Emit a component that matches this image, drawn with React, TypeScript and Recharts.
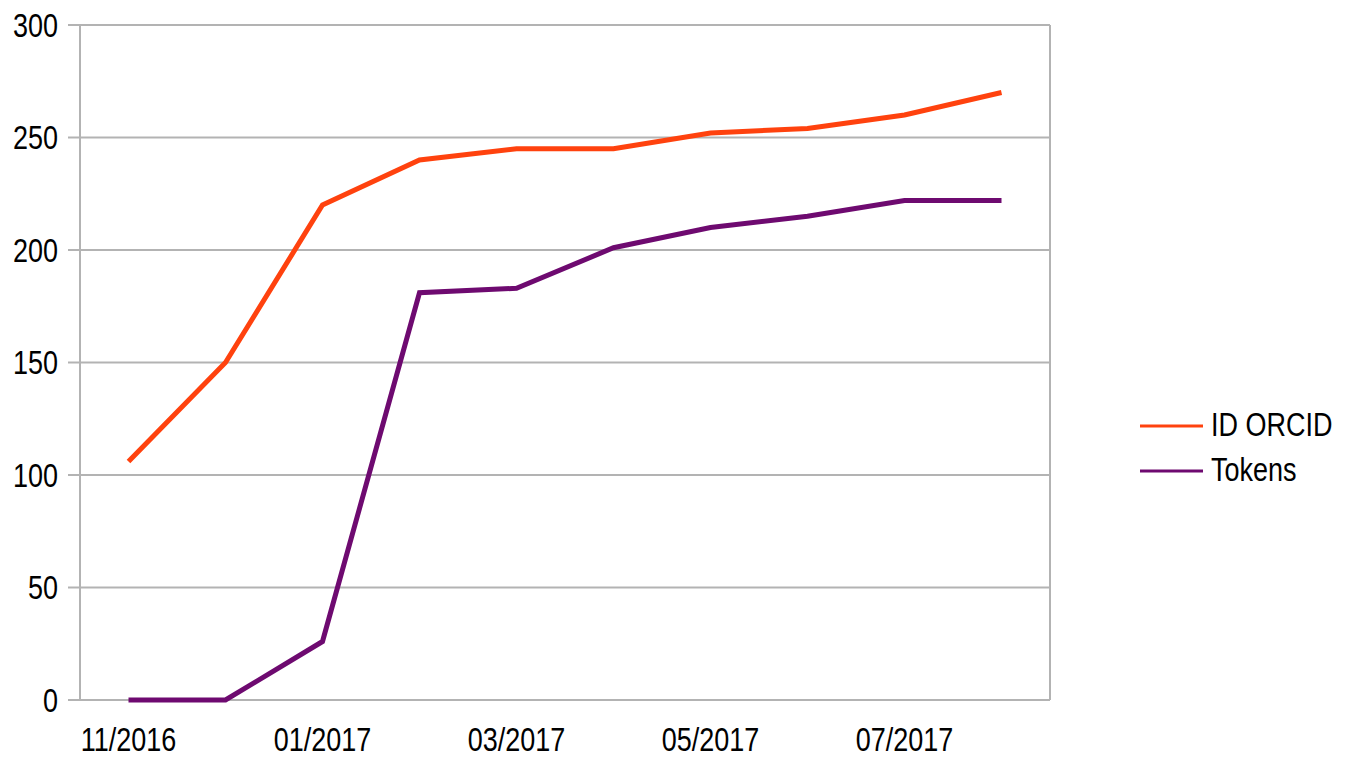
import React from 'react';
import { LineChart, Line, XAxis, YAxis, CartesianGrid, Legend, ReferenceLine } from 'recharts';

const months = ['11/2016', '12/2016', '01/2017', '02/2017', '03/2017', '04/2017', '05/2017', '06/2017', '07/2017', '08/2017'];
const orcidIds = [106, 150, 220, 240, 245, 245, 252, 254, 260, 270];
const tokens = [0, 0, 26, 181, 183, 201, 210, 215, 222, 222];
const yTicks = [0, 50, 100, 150, 200, 250, 300];

const FONT = "'Liberation Sans', Arial, sans-serif";
const FONT_SIZE = 27;
const STRETCH = 1.2; // the source text is a bit taller than it is wide
const GRID = '#b3b3b3';
const ORANGE = '#ff420e';
const PURPLE = '#6e0a70';

// one category per month, points sit in the middle of each slot
const data = months.map((m, i) => ({ x: i + 0.5, month: m, orcid: orcidIds[i], tokens: tokens[i] }));
const slotBounds = months.map((_, i) => i).concat(months.length);
const labelTicks = months.map((_, i) => i + 0.5).filter((_, i) => i % 2 === 0);

const MonthTick = (props: any) => {
  const { x, y, payload } = props;
  return (
    <g transform={`translate(${x},${y}) scale(1,${STRETCH})`}>
      <text x={0} y={0} dy="0.71em" textAnchor="middle" fill="#000" fontSize={FONT_SIZE} fontFamily={FONT}>
        {months[Math.floor(payload.value)]}
      </text>
    </g>
  );
};

const ValueTick = (props: any) => {
  const { x, y, payload } = props;
  return (
    <g transform={`translate(${x},${y}) scale(1,${STRETCH})`}>
      <text x={0} y={0} dy="0.355em" textAnchor="end" fill="#000" fontSize={FONT_SIZE} fontFamily={FONT}>
        {payload.value}
      </text>
    </g>
  );
};

const renderLegend = (props: any) => {
  const { payload } = props;
  return (
    <div style={{ paddingLeft: 90 }}>
      {payload.map((entry: any) => (
        <div key={entry.value} style={{ display: 'flex', alignItems: 'center', height: 45, whiteSpace: 'nowrap' }}>
          <svg width={63} height={4} style={{ display: 'block' }}>
            <line x1={0} y1={2} x2={63} y2={2} stroke={entry.color} strokeWidth={3} />
          </svg>
          <span
            style={{
              marginLeft: 8,
              fontSize: FONT_SIZE,
              fontFamily: FONT,
              color: '#000',
              display: 'inline-block',
              transform: `scaleY(${STRETCH})`,
            }}
          >
            {entry.value}
          </span>
        </div>
      ))}
    </div>
  );
};

export default function App() {
  return (
    <div style={{ position: 'absolute', left: 0, top: 0, background: '#fff' }}>
      <LineChart width={1352} height={758} data={data} margin={{ top: 25, right: 12, bottom: 0, left: 0 }}>
        <CartesianGrid xAxisId="grid" vertical={false} stroke={GRID} strokeWidth={2} />
        <XAxis
          xAxisId="grid"
          type="number"
          dataKey="x"
          domain={[0, months.length]}
          ticks={slotBounds}
          tick={false}
          tickSize={12}
          height={0}
          axisLine={{ stroke: GRID, strokeWidth: 2 }}
          tickLine={{ stroke: GRID, strokeWidth: 2 }}
        />
        <XAxis
          xAxisId="labels"
          type="number"
          dataKey="x"
          domain={[0, months.length]}
          ticks={labelTicks}
          interval={0}
          axisLine={false}
          tickLine={false}
          tickSize={0}
          tickMargin={28}
          height={58}
          tick={<MonthTick />}
        />
        <YAxis
          domain={[0, 300]}
          ticks={yTicks}
          interval={0}
          width={80}
          tickSize={12}
          tickMargin={10}
          axisLine={{ stroke: GRID, strokeWidth: 2 }}
          tickLine={{ stroke: GRID, strokeWidth: 2 }}
          tick={<ValueTick />}
        />
        <ReferenceLine xAxisId="grid" x={months.length} stroke={GRID} strokeWidth={2} />
        <Legend
          layout="vertical"
          align="right"
          verticalAlign="middle"
          width={290}
          wrapperStyle={{ top: 403 }}
          content={renderLegend}
        />
        <Line
          xAxisId="grid"
          type="linear"
          dataKey="orcid"
          name="ID ORCID"
          stroke={ORANGE}
          strokeWidth={5}
          dot={false}
          activeDot={false}
          isAnimationActive={false}
        />
        <Line
          xAxisId="grid"
          type="linear"
          dataKey="tokens"
          name="Tokens"
          stroke={PURPLE}
          strokeWidth={5}
          dot={false}
          activeDot={false}
          isAnimationActive={false}
        />
      </LineChart>
    </div>
  );
}
